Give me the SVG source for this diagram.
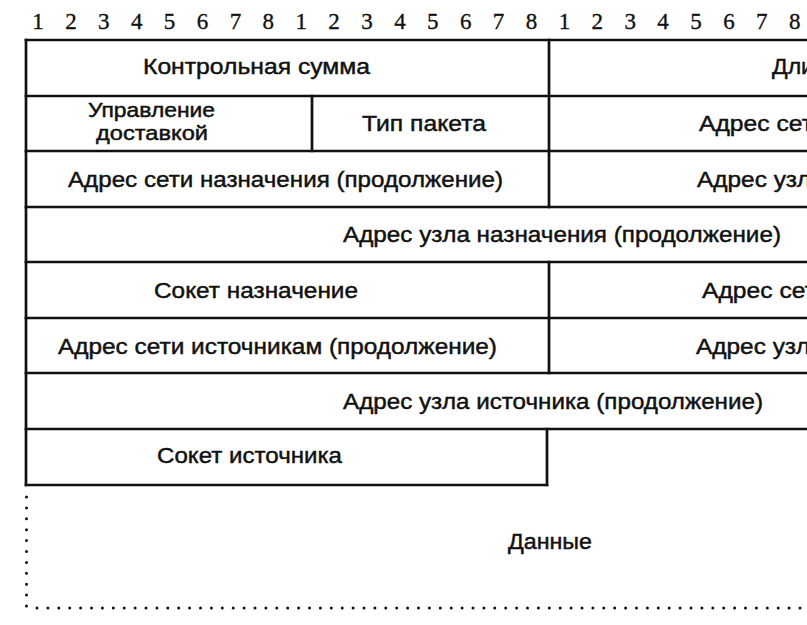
<svg xmlns="http://www.w3.org/2000/svg" width="807" height="625" viewBox="0 0 807 625">
<style>
.bg{fill:#ffffff}
.ln{stroke:#111;stroke-width:2.7;fill:none;stroke-linecap:square}
.dot{stroke:#111;stroke-width:3;fill:none;stroke-linecap:round;stroke-dasharray:0 10.9}
.t{font-family:"Liberation Sans",Arial,sans-serif;font-size:22.5px;fill:#111;stroke:#111;stroke-width:0.45}
.s{font-size:20px}
.n{font-family:"Liberation Serif","Times New Roman",serif;font-size:23px;fill:#111;stroke:#111;stroke-width:0.35;text-anchor:middle}
</style>
<rect class="bg" x="0" y="0" width="807" height="625"/>
<g id="ruler">
<text class="n" x="38" y="29">1</text><text class="n" x="70.9" y="29">2</text><text class="n" x="103.8" y="29">3</text><text class="n" x="136.7" y="29">4</text><text class="n" x="169.6" y="29">5</text><text class="n" x="202.5" y="29">6</text><text class="n" x="235.4" y="29">7</text><text class="n" x="268.3" y="29">8</text>
<text class="n" x="301.2" y="29">1</text><text class="n" x="334.1" y="29">2</text><text class="n" x="367" y="29">3</text><text class="n" x="399.9" y="29">4</text><text class="n" x="432.8" y="29">5</text><text class="n" x="465.7" y="29">6</text><text class="n" x="498.6" y="29">7</text><text class="n" x="531.5" y="29">8</text>
<text class="n" x="564.4" y="29">1</text><text class="n" x="597.3" y="29">2</text><text class="n" x="630.2" y="29">3</text><text class="n" x="663.1" y="29">4</text><text class="n" x="696" y="29">5</text><text class="n" x="728.9" y="29">6</text><text class="n" x="761.8" y="29">7</text><text class="n" x="794.7" y="29">8</text>
</g>
<g id="connectors">
<path class="ln" d="M26 40H809M26 96H809M26 151H809M26 207H809M26 262H809M26 318H809M26 373H809M26 429H809M26 485H547"/>
<path class="ln" d="M26 40V485M549 40V207M549 262V373M547 429V485M312 96V151"/>
<path class="dot" d="M26.5 497V608M37 608H807"/>
</g>
<g id="checksum"><text class="t" x="143" y="74" textLength="227" lengthAdjust="spacingAndGlyphs">Контрольная сумма</text></g>
<g id="length"><text class="t" x="772" y="74" textLength="42" lengthAdjust="spacingAndGlyphs">Дли</text></g>
<g id="transport-control"><text class="t s" x="88" y="116.5" textLength="127" lengthAdjust="spacingAndGlyphs">Управление</text><text class="t s" x="96" y="140" textLength="112" lengthAdjust="spacingAndGlyphs">доставкой</text></g>
<g id="packet-type"><text class="t" x="362" y="131" textLength="124" lengthAdjust="spacingAndGlyphs">Тип пакета</text></g>
<g id="dest-net"><text class="t" x="699" y="131" textLength="114" lengthAdjust="spacingAndGlyphs">Адрес сет</text></g>
<g id="dest-net-cont"><text class="t" x="68" y="187" textLength="435" lengthAdjust="spacingAndGlyphs">Адрес сети назначения (продолжение)</text></g>
<g id="dest-node"><text class="t" x="697" y="187" textLength="114" lengthAdjust="spacingAndGlyphs">Адрес узл</text></g>
<g id="dest-node-cont"><text class="t" x="343" y="242" textLength="438" lengthAdjust="spacingAndGlyphs">Адрес узла назначения (продолжение)</text></g>
<g id="dest-socket"><text class="t" x="154" y="298" textLength="204" lengthAdjust="spacingAndGlyphs">Сокет назначение</text></g>
<g id="src-net"><text class="t" x="702" y="298" textLength="114" lengthAdjust="spacingAndGlyphs">Адрес сет</text></g>
<g id="src-net-cont"><text class="t" x="58" y="354" textLength="439" lengthAdjust="spacingAndGlyphs">Адрес сети источникам (продолжение)</text></g>
<g id="src-node"><text class="t" x="696" y="354" textLength="114" lengthAdjust="spacingAndGlyphs">Адрес узл</text></g>
<g id="src-node-cont"><text class="t" x="343" y="409" textLength="420" lengthAdjust="spacingAndGlyphs">Адрес узла источника (продолжение)</text></g>
<g id="src-socket"><text class="t" x="157" y="463" textLength="185" lengthAdjust="spacingAndGlyphs">Сокет источника</text></g>
<g id="data"><text class="t" x="508" y="549" textLength="84" lengthAdjust="spacingAndGlyphs">Данные</text></g>
</svg>
